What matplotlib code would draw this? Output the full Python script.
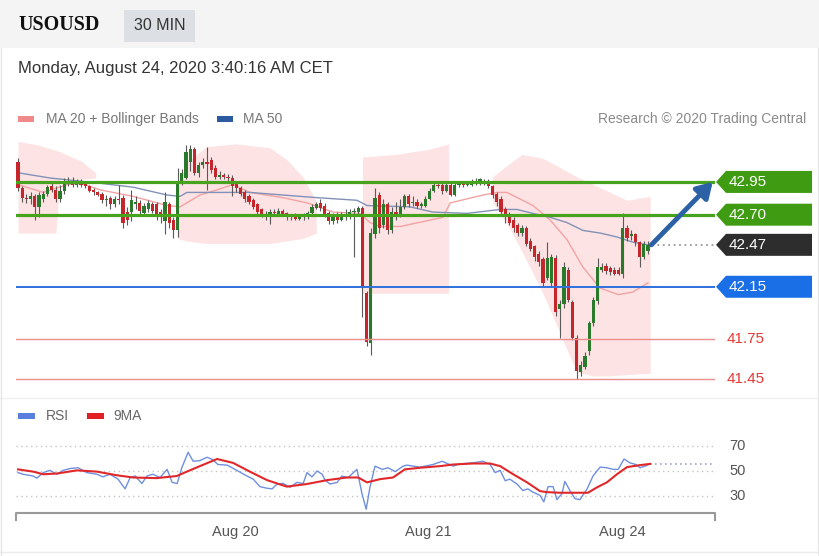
import matplotlib
matplotlib.use("Agg")
import matplotlib.pyplot as plt
from matplotlib.patches import Rectangle, Polygon
from matplotlib.lines import Line2D
import numpy as np

plt.rcParams['font.family'] = ['Liberation Sans', 'DejaVu Sans']

# ---------------- data ----------------
symbol = "USOUSD"
timeframe = "30 MIN"
timestamp = "Monday, August 24, 2020 3:40:16 AM CET"

opens = [43.10, 42.90, 42.83, 42.82, 42.84, 42.76, 42.82, 42.86, 42.92, 42.89,
         42.82, 42.88, 42.94, 42.96, 42.93, 42.94, 42.94, 42.92, 42.89, 42.87,
         42.86, 42.81, 42.83, 42.78, 42.82, 42.83, 42.72, 42.72, 42.78, 42.79,
         42.71, 42.74, 42.78, 42.78, 42.72, 42.65, 42.78, 42.66, 42.58, 42.96,
         42.98, 43.10, 43.20, 43.02, 43.08, 43.10, 43.12, 43.06, 42.99, 43.00,
         42.99, 42.98, 42.94, 42.90, 42.87, 42.84, 42.81, 42.78, 42.74, 42.71,
         42.70, 42.72, 42.70, 42.73, 42.71, 42.68, 42.69, 42.67, 42.68, 42.68,
         42.71, 42.75, 42.79, 42.77, 42.71, 42.65, 42.70, 42.66, 42.70, 42.69,
         42.72, 42.72, 42.75, 42.10, 41.72, 42.55, 42.85, 42.62, 42.78, 42.58,
         42.72, 42.70, 42.76, 42.84, 42.79, 42.80, 42.77, 42.77, 42.82, 42.88,
         42.93, 42.93, 42.88, 42.93, 42.85, 42.93, 42.94, 42.93, 42.93, 42.96,
         42.95, 42.96, 42.96, 42.92, 42.86, 42.82, 42.74, 42.70, 42.66, 42.62,
         42.56, 42.60, 42.50, 42.46, 42.40, 42.36, 42.22, 42.18, 42.37, 41.98,
         42.02, 42.28, 42.03, 41.76, 41.50, 41.54, 41.66, 41.87, 42.04, 42.28,
         42.31, 42.29, 42.28, 42.28, 42.25, 42.60, 42.54, 42.55, 42.49, 42.38,
         42.42]
highs = [43.13, 42.92, 42.86, 42.87, 42.86, 42.87, 42.88, 42.93, 42.94, 42.92,
         42.93, 42.98, 42.99, 42.99, 42.97, 42.97, 42.96, 42.93, 42.90, 42.88,
         42.87, 42.85, 42.84, 42.84, 42.93, 42.85, 42.76, 42.89, 42.84, 42.81,
         42.79, 42.81, 42.80, 42.80, 42.74, 42.87, 42.80, 42.68, 43.06, 43.05,
         43.23, 43.23, 43.22, 43.10, 43.13, 43.22, 43.14, 43.08, 43.03, 43.02,
         43.01, 43.00, 42.96, 42.92, 42.89, 42.86, 42.83, 42.79, 42.75, 42.73,
         42.74, 42.74, 42.75, 42.74, 42.72, 42.70, 42.71, 42.70, 42.71, 42.73,
         42.78, 42.80, 42.82, 42.79, 42.73, 42.71, 42.72, 42.72, 42.74, 42.74,
         42.75, 42.77, 42.77, 42.12, 42.60, 42.90, 42.87, 42.82, 42.80, 42.76,
         42.80, 42.82, 42.86, 42.86, 42.84, 42.82, 42.80, 42.84, 42.90, 42.95,
         42.95, 42.95, 42.95, 42.94, 42.95, 42.96, 42.96, 42.96, 42.97, 42.98,
         42.98, 42.97, 42.97, 42.93, 42.87, 42.84, 42.76, 42.72, 42.68, 42.64,
         42.62, 42.61, 42.52, 42.47, 42.42, 42.38, 42.49, 42.40, 42.39, 42.05,
         42.34, 42.30, 42.05, 41.78, 41.58, 41.65, 41.89, 42.07, 42.37, 42.33,
         42.33, 42.31, 42.30, 42.30, 42.71, 42.62, 42.58, 42.56, 42.50, 42.50,
         42.50]
lows = [42.88, 42.80, 42.79, 42.78, 42.66, 42.68, 42.80, 42.84, 42.87, 42.80,
        42.80, 42.86, 42.92, 42.91, 42.91, 42.91, 42.90, 42.87, 42.85, 42.84,
        42.79, 42.77, 42.74, 42.76, 42.78, 42.60, 42.62, 42.65, 42.74, 42.70,
        42.69, 42.72, 42.71, 42.66, 42.64, 42.55, 42.60, 42.52, 42.53, 42.93,
        42.97, 43.03, 43.00, 42.99, 43.06, 42.89, 43.02, 42.97, 42.97, 42.97,
        42.96, 42.84, 42.87, 42.84, 42.80, 42.78, 42.74, 42.70, 42.68, 42.66,
        42.63, 42.69, 42.69, 42.69, 42.66, 42.66, 42.66, 42.66, 42.66, 42.67,
        42.70, 42.74, 42.73, 42.68, 42.63, 42.63, 42.64, 42.65, 42.66, 42.67,
        42.38, 42.70, 41.92, 41.70, 41.63, 42.52, 42.56, 42.60, 42.55, 42.56,
        42.66, 42.68, 42.74, 42.76, 42.77, 42.75, 42.75, 42.76, 42.81, 42.87,
        42.90, 42.86, 42.87, 42.84, 42.84, 42.91, 42.91, 42.92, 42.92, 42.93,
        42.93, 42.93, 42.90, 42.83, 42.77, 42.70, 42.64, 42.62, 42.57, 42.54,
        42.54, 42.46, 42.42, 42.35, 42.31, 42.15, 42.20, 42.15, 41.93, 41.76,
        41.99, 42.03, 41.74, 41.45, 41.47, 41.52, 41.63, 41.85, 42.02, 42.26,
        42.25, 42.24, 42.24, 42.24, 42.22, 42.50, 42.51, 42.46, 42.30, 42.36,
        42.40]
closes = [42.90, 42.83, 42.82, 42.84, 42.76, 42.85, 42.86, 42.91, 42.89, 42.82,
          42.88, 42.95, 42.95, 42.93, 42.94, 42.93, 42.92, 42.88, 42.87, 42.85,
          42.81, 42.82, 42.78, 42.82, 42.81, 42.64, 42.66, 42.81, 42.80, 42.73,
          42.77, 42.79, 42.73, 42.69, 42.68, 42.80, 42.64, 42.58, 42.96, 43.02,
          43.18, 43.20, 43.02, 43.08, 43.10, 43.09, 43.04, 42.99, 43.00, 42.99,
          42.98, 42.92, 42.90, 42.86, 42.82, 42.80, 42.76, 42.72, 42.70, 42.71,
          42.72, 42.71, 42.73, 42.70, 42.68, 42.69, 42.67, 42.68, 42.69, 42.71,
          42.76, 42.78, 42.75, 42.70, 42.65, 42.69, 42.66, 42.70, 42.69, 42.72,
          42.73, 42.75, 42.14, 41.73, 42.56, 42.83, 42.60, 42.78, 42.58, 42.72,
          42.70, 42.76, 42.84, 42.78, 42.80, 42.77, 42.78, 42.82, 42.88, 42.93,
          42.92, 42.88, 42.93, 42.85, 42.93, 42.94, 42.93, 42.94, 42.96, 42.95,
          42.97, 42.95, 42.92, 42.85, 42.80, 42.72, 42.68, 42.64, 42.60, 42.56,
          42.60, 42.48, 42.44, 42.38, 42.34, 42.18, 42.37, 42.38, 41.96, 42.02,
          42.30, 42.05, 41.76, 41.51, 41.55, 41.62, 41.87, 42.05, 42.30, 42.30,
          42.27, 42.26, 42.25, 42.25, 42.60, 42.52, 42.55, 42.49, 42.38, 42.48,
          42.47]

# moving averages (bar index, price)
ma20_idx = [0, 6, 11.7, 14.8, 19.5, 27.4, 35.5, 38.6, 43.3, 47.4, 51.2, 55.2, 63.1,
            68.8, 75, 81.4, 83.8, 86.2, 91, 101.2, 102.9, 110.7, 114, 116.4, 122.6,
            126.7, 130.7, 134.5, 138.6, 142.9, 146.4, 150]
ma20_val = [42.93, 42.87, 42.93, 42.94, 42.89, 42.84, 42.77, 42.76, 42.85, 42.89,
            42.93, 42.87, 42.83, 42.79, 42.72, 42.71, 42.64, 42.61, 42.61, 42.68,
            42.79, 42.85, 42.87, 42.87, 42.77, 42.66, 42.51, 42.30, 42.14, 42.09,
            42.11, 42.18]
ma50_idx = [0, 7.6, 19.5, 27.4, 35.5, 38.6, 40.2, 47.4, 55.2, 63.1, 71.2, 80.7,
            83.1, 93.3, 98.8, 106.9, 114.8, 118.8, 122.6, 126.7, 130.7, 134.5,
            138.6, 142.6, 146.4, 150]
ma50_val = [43.02, 42.98, 42.94, 42.91, 42.85, 42.84, 42.87, 42.87, 42.87, 42.85,
            42.83, 42.81, 42.77, 42.76, 42.72, 42.71, 42.74, 42.74, 42.71, 42.68,
            42.64, 42.58, 42.56, 42.53, 42.49, 42.47]

# Bollinger band areas (bar index, upper, lower)
bb_a_idx = [0, 5, 9, 10, 15, 18.5]
bb_a_up = [43.26, 43.23, 43.19, 43.18, 43.11, 43.02]
bb_a_lo = [42.56, 42.56, 42.56, 42.97, 42.97, 42.98]
bb_b_idx = [38, 40, 45, 52, 60, 64, 68, 71]
bb_b_up = [42.90, 43.10, 43.22, 43.24, 43.21, 43.12, 42.98, 42.80]
bb_b_lo = [42.52, 42.50, 42.48, 42.48, 42.48, 42.50, 42.52, 42.56]
bb_c_idx = [82, 90, 98, 102.5]
bb_c_up = [43.14, 43.16, 43.20, 43.24]
bb_c_lo = [42.10, 42.10, 42.10, 42.10]
bb_d_idx = [113, 117, 120, 125, 129, 133, 137, 141, 145, 150.5]
bb_d_up = [42.99, 43.09, 43.16, 43.13, 43.06, 42.99, 42.93, 42.87, 42.81, 42.84]
bb_d_lo = [42.80, 42.60, 42.42, 42.10, 41.80, 41.50, 41.47, 41.47, 41.48, 41.49]

# key levels
resist_levels = [42.95, 42.70]
pivot_level = 42.15
support_levels = [41.75, 41.45]
last_price = 42.47
target_price = 42.95

# RSI panel (bar index, value)
rsi_idx = [0, 1.2, 3.6, 4.5, 6, 7.6, 9.3, 10.7, 12.4, 14.3, 16.4, 18.8, 20.2, 21.9,
           23.8, 25.5, 26.7, 27.9, 29.5, 30.7, 32.1, 33.8, 35.5, 36.7, 37.9, 39,
           40.5, 41.7, 43.3, 45, 46.4, 47.6, 49.8, 52.1, 54.5, 56, 57.6, 59.3, 60.5,
           61.7, 63.1, 64.8, 66.4, 67.9, 68.8, 70, 71.2, 72.4, 73.1, 74.3, 76, 77.1,
           78.6, 80.7, 81.9, 82.9, 83.8, 85, 86.7, 88.1, 89.8, 91.7, 92.6, 95.7,
           98.8, 101, 103.6, 105.2, 108.3, 110.7, 112.4, 113.6, 114.8, 116, 117.1,
           118.8, 120.2, 121.4, 122.6, 124.3, 125.2, 126.2, 127.4, 128.3, 129.5,
           130.2, 131.4, 132.6, 133.8, 135.5, 136.9, 138.6, 140.2, 141.7, 142.9,
           144.3, 145.7, 147.1, 148.1, 149.3, 150.5]
rsi_val = [48.7, 47.4, 46.0, 44.3, 48.7, 50.5, 47.4, 50.5, 52.0, 52.6, 48.7, 47.4,
           45.3, 47.4, 43.5, 35.7, 44.8, 46.0, 40.0, 46.0, 47.4, 44.8, 51.3, 40.9,
           40.0, 52.6, 65.0, 57.8, 58.3, 61.0, 59.0, 55.2, 54.7, 50.5, 46.0, 43.5,
           37.5, 36.2, 35.7, 39.6, 40.1, 37.0, 40.9, 40.0, 48.7, 45.3, 50.0, 47.4,
           42.7, 39.6, 40.9, 46.0, 44.8, 51.3, 31.8, 19.4, 37.2, 53.9, 51.3, 52.6,
           49.5, 53.9, 54.7, 53.1, 55.2, 57.8, 53.9, 55.7, 56.5, 57.8, 55.2, 48.7,
           50.5, 42.2, 43.5, 39.6, 34.4, 35.7, 33.1, 30.5, 25.3, 37.5, 37.5, 27.1,
           31.8, 41.7, 34.4, 27.9, 27.1, 35.7, 46.0, 53.1, 52.6, 51.3, 51.3, 59.6,
           56.5, 55.2, 52.6, 53.9, 55.7]
ma9_idx = [0, 3.6, 6, 9.3, 14, 18.8, 23.5, 27.4, 33, 37.8, 40.2, 43.3, 47.4, 51.2,
           55.2, 59.3, 64, 68.8, 73.6, 78.3, 81, 83.1, 86.2, 89.3, 92.1, 95.7, 100.5,
           103.6, 108.3, 112.4, 114.8, 117.9, 121.2, 124.3, 125.9, 129, 132.1, 135.7,
           137.9, 140.2, 142.6, 145, 148.1, 150.5]
ma9_val = [51.3, 49.5, 47.4, 48.0, 50.5, 49.5, 46.6, 44.8, 44.3, 46.0, 49.5, 53.9,
           59.6, 56.5, 49.5, 42.7, 37.5, 39.6, 42.7, 44.8, 44.8, 40.9, 43.5, 44.8,
           51.3, 52.6, 53.9, 55.2, 56.0, 56.0, 53.9, 47.4, 40.9, 33.9, 33.1, 32.6,
           32.6, 32.6, 37.0, 40.9, 47.4, 53.1, 54.7, 55.7]
rsi_levels = [70, 50, 30]
rsi_last = 55.7

date_ticks = [51.7, 97.6, 143.8]
date_labels = ["Aug 20", "Aug 21", "Aug 24"]

# ---------------- figure ----------------
W, H = 819, 556
fig = plt.figure(figsize=(W / 100, H / 100), dpi=100)
fig.patch.set_facecolor('white')


def rect(x0, y0, x1, y1):
    return [x0 / W, 1 - y1 / H, (x1 - x0) / W, (y1 - y0) / H]


def ftext(x, y, s, **kw):
    return fig.text(x / W, 1 - y / H, s, **kw)


def fbox(x0, y0, x1, y1, color, **kw):
    fig.add_artist(Rectangle((x0 / W, 1 - y1 / H), (x1 - x0) / W, (y1 - y0) / H,
                             transform=fig.transFigure, facecolor=color,
                             edgecolor='none', **kw))


def fline(pts, **kw):
    xs = [p[0] / W for p in pts]
    ys = [1 - p[1] / H for p in pts]
    fig.add_artist(Line2D(xs, ys, transform=fig.transFigure, **kw))


# header
fbox(0, 0, W, 48, '#f4f4f4')
fbox(124, 10, 195, 42, '#dcdfe3')
ftext(18, 25, symbol, family='Liberation Serif', weight='bold', fontsize=14.5,
      color='#111111', va='center')
ftext(159.5, 26, timeframe, fontsize=11.5, color='#333333', va='center', ha='center')
ftext(18, 68, timestamp, fontsize=12, color='#333333', va='center')

# legends
fbox(18, 116, 34, 122, '#f08a8a')
ftext(46, 119, "MA 20 + Bollinger Bands", fontsize=10, color='#777777', va='center')
fbox(217, 116, 233, 122, '#2d5a9e')
ftext(243, 119, "MA 50", fontsize=10, color='#777777', va='center')
ftext(806, 119, "Research \u00a9 2020 Trading Central", fontsize=10, color='#8a8a8a',
      va='center', ha='right')

fbox(18, 413, 35, 419, '#5b7fdc')
ftext(46, 416, "RSI", fontsize=10, color='#666666', va='center')
fbox(87, 413, 104, 419, '#e02020')
ftext(113, 416, "9MA", fontsize=10, color='#666666', va='center')

# panel separators / frame
fline([(0, 398), (W, 398)], color='#f0f0f0', lw=1)
fline([(0, 552), (W, 552)], color='#ececec', lw=1)
fline([(1, 48), (1, 555)], color='#e6e6e6', lw=1)
fline([(818, 48), (818, 555)], color='#e6e6e6', lw=1)

# ---------------- main price panel ----------------
XLIM = (-0.48, 165.95)
YLIM = (41.347, 43.27)
ax = fig.add_axes(rect(16, 140, 715, 392))
ax.set_xlim(*XLIM)
ax.set_ylim(*YLIM)
ax.axis('off')

for bi, bu, bl in [(bb_a_idx, bb_a_up, bb_a_lo), (bb_b_idx, bb_b_up, bb_b_lo),
                   (bb_c_idx, bb_c_up, bb_c_lo), (bb_d_idx, bb_d_up, bb_d_lo)]:
    ax.fill_between(bi, bu, bl, color='#fde3e3', lw=0, zorder=0)

ax.plot(ma20_idx, ma20_val, color='#f3a3a3', lw=1.0, zorder=1)
ax.plot(ma50_idx, ma50_val, color='#8191b8', lw=1.0, zorder=1)

o = np.array(opens)
c = np.array(closes)
hi = np.array(highs)
lo = np.array(lows)
idx = np.arange(len(o))
up = c >= o
ax.vlines(idx, lo, hi, color='#5a5a5a', lw=0.8, zorder=2)
body_bottom = np.minimum(o, c)
body_h = np.maximum(np.abs(c - o), 0.006)
ax.bar(idx, body_h, bottom=body_bottom, width=0.75,
       color=np.where(up, '#2b7a2b', '#c4262b'), zorder=3, linewidth=0)

for lv in resist_levels:
    ax.axhline(lv, color='#47a21d', lw=2.3, zorder=4)
ax.axhline(pivot_level, color='#2f6fde', lw=1.4, zorder=4)
for lv in support_levels:
    ax.axhline(lv, color='#ef8d8d', lw=1.0, zorder=4)
ax.plot([len(o), XLIM[1]], [last_price, last_price], color='#9a9a9a', lw=1.3,
        ls=(0, (1, 2)), zorder=4)

ax.annotate('', xy=(165.4, target_price), xytext=(len(o) - 0.2, last_price),
            arrowprops=dict(arrowstyle='-|>,head_width=0.55,head_length=0.9',
                            color='#2c61a6', lw=3.5, shrinkA=0, shrinkB=0),
            annotation_clip=False, zorder=5)

# price labels
axl = fig.add_axes(rect(715, 140, 819, 392))
axl.set_xlim(715, 819)
axl.set_ylim(*YLIM)
axl.axis('off')
hh = 11 * (YLIM[1] - YLIM[0]) / 252.0
boxes = [(resist_levels[0], '#3f9c12'), (resist_levels[1], '#3f9c12'),
         (last_price, '#2d2d2d'), (pivot_level, '#1a6fe6')]
for p, col in boxes:
    axl.add_patch(Polygon([(716, p), (726, p + hh), (812, p + hh), (812, p - hh),
                           (726, p - hh)], closed=True, facecolor=col, edgecolor='none'))
    axl.text(729, p, f"{p:.2f}", color='white', fontsize=11, va='center', ha='left')
for p in support_levels:
    axl.text(727, p, f"{p:.2f}", color='#e53935', fontsize=11, va='center', ha='left')

# ---------------- RSI panel ----------------
axr = fig.add_axes(rect(16, 430, 715, 513))
axr.set_xlim(*XLIM)
axr.set_ylim(16.4, 82.8)
axr.axis('off')
for lv in rsi_levels:
    axr.axhline(lv, color='#c4c4c4', lw=1.0, ls=(0, (1, 2.5)), zorder=0)
    axr.text(1.02, lv, str(lv), transform=axr.get_yaxis_transform(), fontsize=10.5,
             color='#555555', va='center', ha='left')
axr.plot(rsi_idx, rsi_val, color='#6f8fe0', lw=1.0, zorder=2)
axr.plot(ma9_idx, ma9_val, color='#e0282a', lw=1.5, zorder=3)
axr.plot([rsi_idx[-1], XLIM[1]], [rsi_last, rsi_last], color='#9aa6cc', lw=1.2,
         ls=(0, (1, 2)), zorder=1)

fline([(16, 520), (16, 513), (715, 513), (715, 520)], color='#9a9a9a', lw=1.5)
for t, lab in zip(date_ticks, date_labels):
    axr.text(t, (513 - 532) / 83.0, lab, transform=axr.get_xaxis_transform(),
             fontsize=10.5, color='#555555', ha='center', va='center')

fig.savefig('out.png', dpi=100)
